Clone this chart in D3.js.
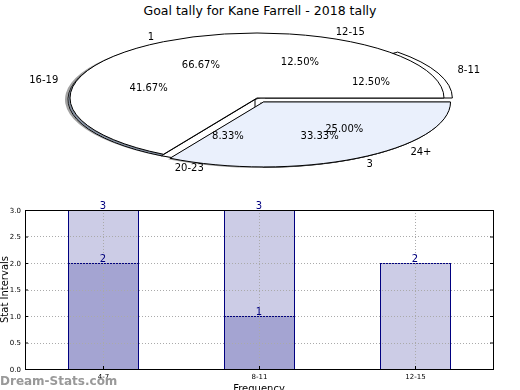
<!DOCTYPE html>
<html>
<head>
<meta charset="utf-8">
<script src="https://cdn.jsdelivr.net/npm/d3@7"></script>
<style>
  body { margin: 0; background: #fff; }
  svg { display: block; font-family: "DejaVu Sans", sans-serif; }
</style>
</head>
<body>
<div id="chart"></div>
<script>
// data
var title = "Goal tally for Kane Farrell - 2018 tally";
var rangeLabels = ["8-11", "12-15", "16-19", "20-23", "24+"];
var rangeValues = [12.5, 12.5, 41.67, 8.33, 25.0];
var rangeExplode = [0.06, 0, 0, 0, 0.06];
var countLabels = ["1", "3"];
var countValues = [66.67, 33.33];
var countExplode = [0, 0.07];

var barCats = ["4-7", "8-11", "12-15"];
var barBack = [3, 3, 2];
var barFront = [2, 1, 0];
var yTicks = [0, 0.5, 1.0, 1.5, 2.0, 2.5, 3.0];

var svgWidth = 520, svgHeight = 390;
var svg = d3.select("#chart").append("svg")
    .attr("width", svgWidth)
    .attr("height", svgHeight);

svg.append("text")
    .attr("x", 260).attr("y", 15)
    .attr("text-anchor", "middle")
    .style("font-size", "12.5px")
    .text(title);

// ---- pie (squashed, matplotlib style, counter-clockwise from 3 o'clock)
var cx = 257, cy = 98, rx = 187, ry = 65;

function makePie(values) {
    return d3.pie().sort(null)
        .startAngle(Math.PI / 2)
        .endAngle(Math.PI / 2 - 2 * Math.PI)(values);
}
var arc = d3.arc().innerRadius(0).outerRadius(1);

// point on ellipse for d3 angle a at radius fraction f
function pt(a, f) {
    return [cx + Math.sin(a) * rx * f, cy - Math.cos(a) * ry * f];
}
function mid(d) { return (d.startAngle + d.endAngle) / 2; }

function drawSlices(g, arcs, explode, fills, dx, dy, stroke) {
    g.selectAll("path").data(arcs).enter().append("path")
        .attr("transform", function(d, i) {
            var m = mid(d), e = explode[i];
            var x = cx + dx + Math.sin(m) * rx * e;
            var y = cy + dy - Math.cos(m) * ry * e;
            return "translate(" + x + "," + y + ") scale(" + rx + "," + ry + ")";
        })
        .attr("d", arc)
        .attr("fill", function(d, i) { return fills[i]; })
        .attr("stroke", stroke)
        .attr("stroke-width", 1)
        .attr("vector-effect", "non-scaling-stroke")
        .attr("stroke-linejoin", "round");
}

var rangeArcs = makePie(rangeValues);
var countArcs = makePie(countValues);

var pieG = svg.append("g");
var grey5 = ["#666", "#666", "#666", "#666", "#666"];
// shadows of the first pie
drawSlices(pieG.append("g").attr("opacity", 0.6), rangeArcs, rangeExplode, grey5, -5, 1.5, "none");
// first pie, slightly down-left of the second one
drawSlices(pieG.append("g"), rangeArcs, rangeExplode,
    ["#fff", "#fff", "#b4cdf3", "#fff", "#fff"], -2, 1.5, "#000");
// shadow of the second pie
drawSlices(pieG.append("g").attr("opacity", 0.6), countArcs, countExplode, ["#666", "#666"], -2, 1, "none");
// second pie on top
drawSlices(pieG.append("g"), countArcs, countExplode, ["#fff", "#eaf0fc"], 0, 0, "#000");

function pieText(arcs, labels, explode, fmt) {
    arcs.forEach(function(d, i) {
        var m = mid(d), e = explode[i];
        var p = pt(m, 0.6 + e);
        svg.append("text")
            .attr("x", p[0]).attr("y", p[1])
            .attr("text-anchor", "middle")
            .attr("dy", "0.35em")
            .style("font-size", "10px")
            .text(fmt(d.value));
        var q = pt(m, 1.1 + e);
        svg.append("text")
            .attr("x", q[0]).attr("y", q[1])
            .attr("text-anchor", Math.sin(m) >= 0 ? "start" : "end")
            .attr("dy", "0.35em")
            .style("font-size", "10px")
            .text(labels[i]);
    });
}
var pctFmt = function(v) { return d3.format(".2f")(v) + "%"; };
pieText(rangeArcs, rangeLabels, rangeExplode, pctFmt);
pieText(countArcs, countLabels, countExplode, pctFmt);

// ---- bar chart
var margin = { top: 210, left: 25, right: 27, bottom: 21 };
var width = svgWidth - margin.left - margin.right;
var height = svgHeight - margin.top - margin.bottom;

var chartGroup = svg.append("g")
    .attr("transform", "translate(" + margin.left + "," + margin.top + ")");

var xScale = d3.scaleLinear().domain([-0.5, 2.5]).range([0, width]);
var yScale = d3.scaleLinear().domain([0, 3]).range([height, 0]);
var barW = 0.45;

function drawBars(values) {
    chartGroup.append("g").selectAll("rect")
        .data(values).enter().append("rect")
        .filter(function(d) { return d > 0; })
        .attr("x", function(d, i) { return Math.round(xScale(i - barW / 2)) + 0.5; })
        .attr("y", function(d) { return Math.round(yScale(d)) + 0.5; })
        .attr("width", Math.round(xScale(barW) - xScale(0)))
        .attr("height", function(d) { return Math.round(yScale(0) - yScale(d)); })
        .attr("fill", "rgba(0,0,128,0.2)")
        .attr("stroke", "#000080")
        .attr("stroke-width", 1);
}
drawBars(barBack);
drawBars(barFront);

// grid
chartGroup.append("g").selectAll("line.h")
    .data(yTicks.slice(1, -1)).enter().append("line")
    .attr("x1", 0).attr("x2", width)
    .attr("y1", function(d) { return Math.round(yScale(d)) + 0.5; })
    .attr("y2", function(d) { return Math.round(yScale(d)) + 0.5; })
    .attr("stroke", "#aaa").attr("stroke-dasharray", "1,2");
chartGroup.append("g").selectAll("line.v")
    .data(barCats).enter().append("line")
    .attr("x1", function(d, i) { return Math.round(xScale(i)) + 0.5; })
    .attr("x2", function(d, i) { return Math.round(xScale(i)) + 0.5; })
    .attr("y1", 0).attr("y2", height)
    .attr("stroke", "#aaa").attr("stroke-dasharray", "1,2");

// value labels
function drawValues(values) {
    values.forEach(function(v, i) {
        if (!v) return;
        chartGroup.append("text")
            .attr("x", xScale(i)).attr("y", yScale(v) - 1)
            .attr("text-anchor", "middle")
            .attr("fill", "#000080")
            .style("font-size", "10px")
            .text(v);
    });
}
drawValues(barBack);
drawValues(barFront);

// axes
var leftAxis = d3.axisLeft(yScale).tickValues(yTicks).tickFormat(d3.format(".1f"))
    .tickSize(-3).tickPadding(4);
var bottomAxis = d3.axisBottom(xScale).tickValues([0, 1, 2])
    .tickFormat(function(d) { return barCats[d]; })
    .tickSize(-3).tickPadding(5);
var rightAxis = d3.axisRight(yScale).tickValues(yTicks).tickFormat("").tickSize(-3);

chartGroup.append("g").call(leftAxis);
chartGroup.append("g").attr("transform", "translate(" + width + ",0)").call(rightAxis);
chartGroup.append("g").attr("transform", "translate(0," + height + ")").call(bottomAxis);
chartGroup.selectAll(".domain").remove();
chartGroup.selectAll(".tick text").style("font-size", "7px").style("font-family", "DejaVu Sans, sans-serif");

chartGroup.append("rect")
    .attr("x", 0.5).attr("y", 0.5)
    .attr("width", width).attr("height", height)
    .attr("fill", "none").attr("stroke", "#000");

// axis labels (partly outside the picture, as in the original)
svg.append("text")
    .attr("transform", "translate(8," + (margin.top + height / 2) + ") rotate(-90)")
    .attr("text-anchor", "middle")
    .style("font-size", "10px")
    .text("Stat Intervals");
svg.append("text")
    .attr("x", margin.left + width / 2).attr("y", 392)
    .attr("text-anchor", "middle")
    .style("font-size", "10px")
    .text("Frequency");

svg.append("text")
    .attr("x", 0).attr("y", 385)
    .attr("fill", "#999")
    .style("font-size", "12px")
    .style("font-weight", "bold")
    .text("Dream-Stats.com");
</script>
</body>
</html>
